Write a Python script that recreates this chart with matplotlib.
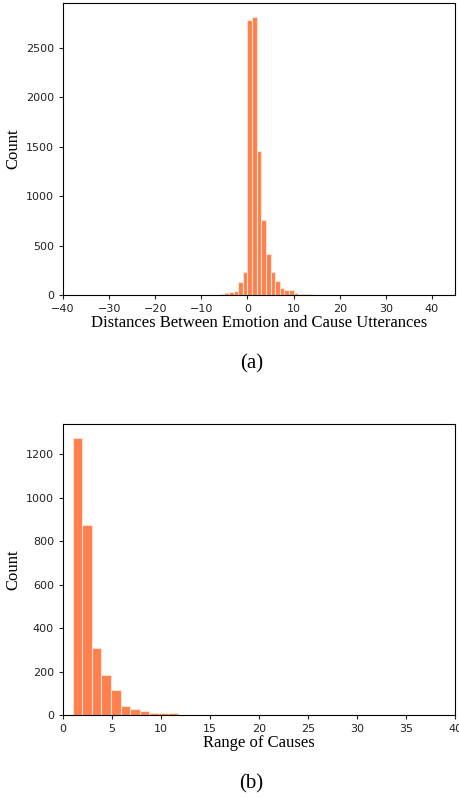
import numpy as np
import matplotlib
matplotlib.use('Agg')
import matplotlib.pyplot as plt

# (a) distance between emotion and cause utterance, unit bins
dist_start = -10
dist_counts = [2, 2, 3, 5, 9, 18, 30, 45, 130, 228,
               2780, 2810, 1450, 755, 415, 235, 140, 75, 50, 50,
               18, 12, 6, 8, 4, 2]

# (b) range of causes, 39 bins between 1 and 39
range_lo, range_hi = 1, 39
range_counts = [1275, 872, 308, 185, 113, 41, 26, 18, 8, 8,
                8, 2, 2, 1, 2, 0, 0, 0, 0, 0,
                0, 0, 1, 2, 0, 0, 0, 0, 0, 0,
                1, 2, 0, 0, 0, 0, 0, 0, 0]

bar_color = '#ff7f4f'
edge_color = '#fde3cc'
serif = 'Liberation Serif'

fig = plt.figure(figsize=(4.59, 7.98), dpi=100)
ax1 = fig.add_axes([63/459, 1-295/798, 392/459, 292/798])
ax2 = fig.add_axes([63/459, 1-715/798, 392/459, 291/798])

edges = np.arange(dist_start, dist_start + len(dist_counts))
ax1.bar(edges, dist_counts, width=1, align='edge', color=bar_color,
        edgecolor=edge_color, linewidth=0.8)
ax1.set_xlim(-40, 45)
ax1.set_xlabel('Distances Between Emotion and Cause Utterances',
               fontsize=12, family=serif, labelpad=1)
ax1.set_ylabel('Count', fontsize=12, family=serif, labelpad=3)

redges = np.linspace(range_lo, range_hi, len(range_counts) + 1)
ax2.bar(redges[:-1], range_counts, width=np.diff(redges), align='edge',
        color=bar_color, edgecolor=edge_color, linewidth=0.8)
ax2.set_xlim(0, 40)
ax2.set_xlabel('Range of Causes', fontsize=12, family=serif, labelpad=1)
ax2.set_ylabel('Count', fontsize=12, family=serif, labelpad=3)

for ax in (ax1, ax2):
    ax.tick_params(labelsize=8, length=3, colors='#222222')

fig.text(252/459, 1-364/798, '(a)', ha='center', va='center',
         fontsize=15, family=serif)
fig.text(251/459, 1-784/798, '(b)', ha='center', va='center',
         fontsize=15, family=serif)

fig.savefig('out.png', dpi=100)
